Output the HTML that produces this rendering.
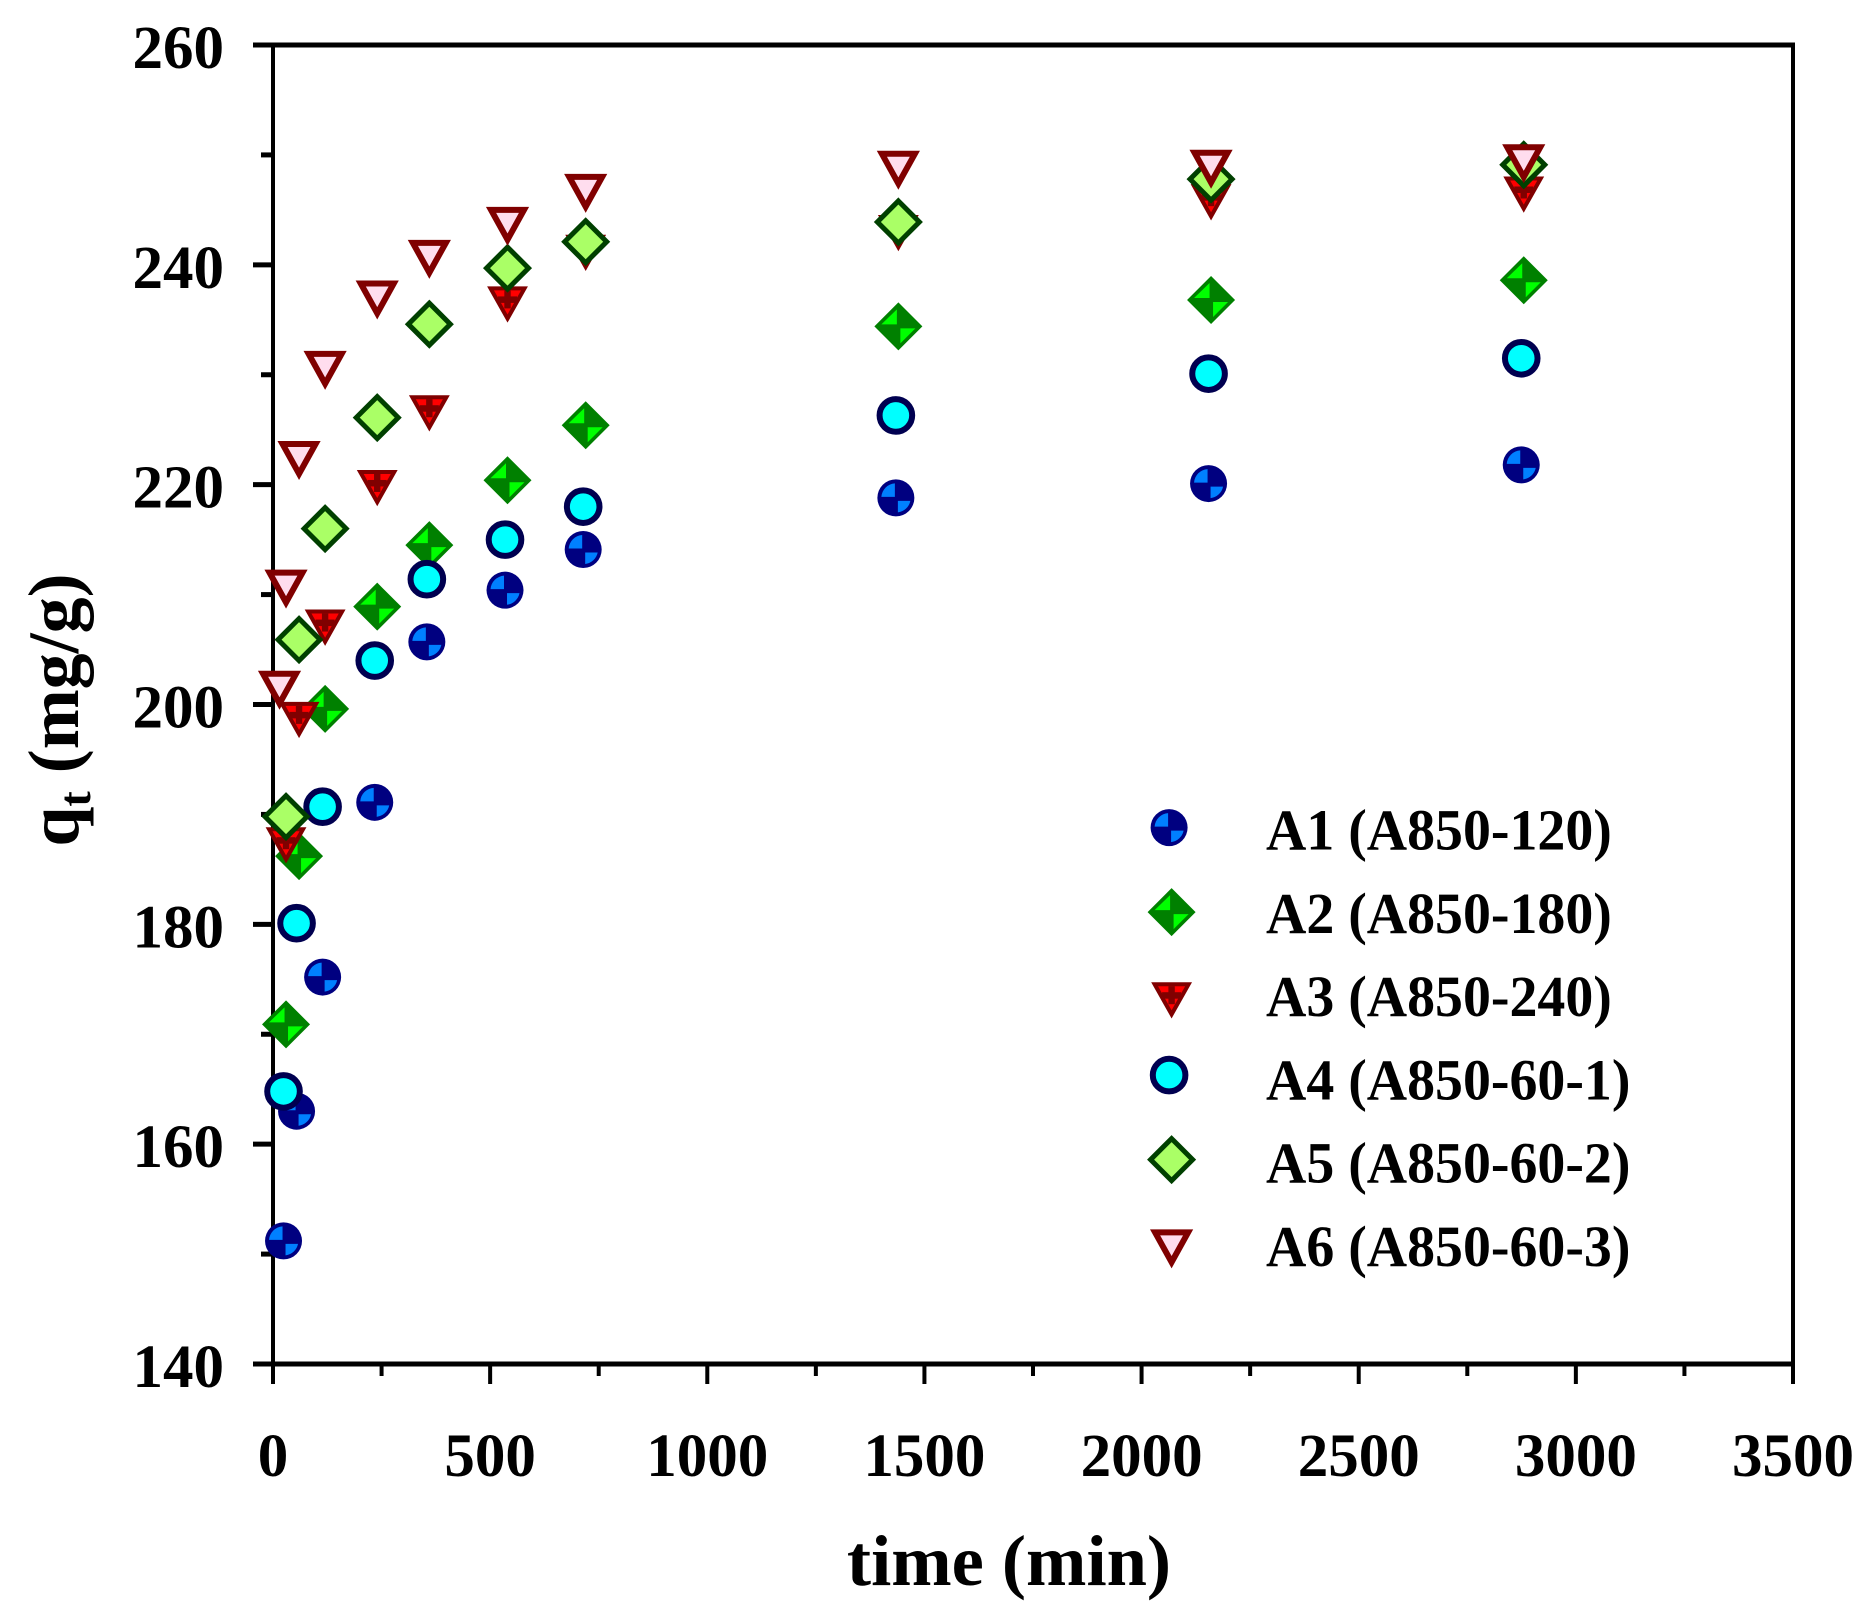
<!DOCTYPE html>
<html>
<head>
<meta charset="utf-8">
<title>qt vs time</title>
<style>
html,body{margin:0;padding:0;background:#fff;width:1874px;height:1620px;overflow:hidden}
svg{display:block}
text{font-family:"Liberation Serif",serif;font-weight:bold;fill:#000}
</style>
</head>
<body>
<svg id="chart" xmlns="http://www.w3.org/2000/svg" width="1874" height="1620" viewBox="0 0 1874 1620">
<rect width="1874" height="1620" fill="#fff"/>
<g id="axes"></g>
<g id="marks"></g>
<g id="legend"></g>
<text x="1009" y="1585" font-size="72.5" text-anchor="middle">time (min)</text>
<text transform="translate(78,710) rotate(-90)" font-size="72" text-anchor="middle">q<tspan font-size="46" dy="12">t</tspan><tspan dy="-12"> (mg/g)</tspan></text>
</svg>
<script>
const xMajorTicks = [0, 500, 1000, 1500, 2000, 2500, 3000, 3500];
const xMinorTicks = [250, 750, 1250, 1750, 2250, 2750, 3250];
const yMajorTicks = [140, 160, 180, 200, 220, 240, 260];
const yMinorTicks = [150, 170, 190, 210, 230, 250];
const times = [30, 60, 120, 240, 360, 540, 720, 1440, 2160, 2880];
const timesA6 = [15, 30, 60, 120, 240, 360, 540, 720, 1440, 2160, 2880];
const a1Values = [151.2, 163.0, 175.2, 191.1, 205.7, 210.4, 214.1, 218.8, 220.1, 221.8];
const a2Values = [170.9, 186.2, 199.6, 208.9, 214.5, 220.4, 225.4, 234.4, 236.8, 238.6];
const a3Values = [187.2, 198.6, 207.0, 219.7, 226.5, 236.4, 241.1, 242.9, 245.7, 246.4];
const a4Values = [164.8, 180.1, 190.7, 204.0, 211.4, 215.0, 218.0, 226.3, 230.1, 231.5];
const a5Values = [189.8, 205.9, 216.0, 226.1, 234.6, 239.7, 242.1, 243.9, 247.8, 249.1];
const a6Values = [201.3, 210.5, 222.2, 230.4, 236.8, 240.5, 243.5, 246.5, 248.6, 248.7, 249.2];
const legendLabels = ["A1 (A850-120)", "A2 (A850-180)", "A3 (A850-240)", "A4 (A850-60-1)", "A5 (A850-60-2)", "A6 (A850-60-3)"];

const NS = "http://www.w3.org/2000/svg";
const plot = {left: 273, right: 1793, top: 45, bottom: 1364};
const xMax = 3500, yMin = 140, yMax = 260;
function xScale(v) { return plot.left + v / xMax * (plot.right - plot.left); }
function yScale(v) { return plot.bottom - (v - yMin) / (yMax - yMin) * (plot.bottom - plot.top); }

function el(tag, attrs, parent) {
  const n = document.createElementNS(NS, tag);
  for (const k in attrs) n.setAttribute(k, attrs[k]);
  parent.appendChild(n);
  return n;
}

const axes = document.getElementById("axes");
function axisLine(x1, y1, x2, y2, w, name) {
  const l = el("line", {x1: x1, y1: y1, x2: x2, y2: y2, stroke: "#000", "stroke-width": w}, axes);
  
  
}
axisLine(plot.left - 20, plot.top, plot.right + 2, plot.top, 5, "plot-top-border");
axisLine(plot.left - 20, plot.bottom, plot.right + 2, plot.bottom, 5, "x-axis-line");
axisLine(plot.left, plot.top, plot.left, plot.bottom + 20, 4, "y-axis-line");
axisLine(plot.right, plot.top, plot.right, plot.bottom + 20, 4, "plot-right-border");

xMajorTicks.forEach(function (v) {
  if (v !== 0 && v !== xMax) axisLine(xScale(v), plot.bottom, xScale(v), plot.bottom + 20, 4, "x-major-tick");
  const t = el("text", {x: xScale(v), y: 1476, "font-size": 61, "text-anchor": "middle"}, axes);
  t.textContent = v;
  
  
});
xMinorTicks.forEach(function (v) {
  axisLine(xScale(v), plot.bottom, xScale(v), plot.bottom + 12, 4, "x-minor-tick");
});
yMajorTicks.forEach(function (v) {
  if (v !== yMin && v !== yMax) axisLine(plot.left - 20, yScale(v), plot.left, yScale(v), 5, "y-major-tick");
  const t = el("text", {x: 224, y: yScale(v) + 23, "font-size": 61, "text-anchor": "end"}, axes);
  t.textContent = v;
  
  
});
yMinorTicks.forEach(function (v) {
  axisLine(plot.left - 12, yScale(v), plot.left, yScale(v), 5, "y-minor-tick");
});

function drawA1(g, x, y) {
  const cx = x - 2.5;
  el("circle", {cx: cx, cy: y, r: 18.5, fill: "#000080"}, g);
  el("path", {d: "M" + (cx - 1) + " " + (y - 1) + "L" + (cx - 14.5) + " " + (y - 1) + "A14.5 14.5 0 0 1 " + (cx - 1) + " " + (y - 14.5) + "Z", fill: "#0080ff"}, g);
  el("path", {d: "M" + (cx + 2) + " " + (y + 3) + "L" + (cx + 14.5) + " " + (y + 3) + "A14.5 14.5 0 0 1 " + (cx + 2) + " " + (y + 14.5) + "Z", fill: "#0080ff"}, g);
}
function drawA2(g, x, y) {
  el("polygon", {points: [x, y - 24, x + 24, y, x, y + 24, x - 24, y].join(" "), fill: "#008000"}, g);
  el("polygon", {points: [x - 1.5, y - 17, x - 1.5, y - 2, x - 17, y - 2].join(" "), fill: "#00ff00"}, g);
  el("polygon", {points: [x + 2, y + 2, x + 17, y + 2, x + 2, y + 17].join(" "), fill: "#00ff00"}, g);
}
function drawA3(g, x, y) {
  el("polygon", {points: [x - 17, y - 16, x + 17, y - 16, x, y + 14.2].join(" "), fill: "#ff0000", stroke: "#800000", "stroke-width": 4, "stroke-linejoin": "miter"}, g);
  el("rect", {x: x - 9.5, y: y - 8, width: 19, height: 6.5, fill: "#800000"}, g);
  el("rect", {x: x - 3.2, y: y - 14, width: 6.4, height: 18, fill: "#800000"}, g);
}
function drawA4(g, x, y) {
  el("circle", {cx: x - 2.5, cy: y, r: 16.3, fill: "#00ffff", stroke: "#000050", "stroke-width": 6}, g);
}
function drawA5(g, x, y) {
  el("polygon", {points: [x, y - 21, x + 21, y, x, y + 21, x - 21, y].join(" "), fill: "#aaff66", stroke: "#004000", "stroke-width": 5, "stroke-linejoin": "miter"}, g);
}
function drawA6(g, x, y) {
  el("polygon", {points: [x - 16.5, y - 16.5, x + 16.5, y - 16.5, x, y + 13.3].join(" "), fill: "#ffddee", stroke: "#800000", "stroke-width": 6, "stroke-linejoin": "miter"}, g);
}

const marks = document.getElementById("marks");
function drawSeries(name, xs, ys, draw) {
  const g = el("g", {}, marks);
  
  
  xs.forEach(function (t, i) {
    const m = el("g", {}, g);
    
    
    draw(m, xScale(t), yScale(ys[i]));
  });
}
drawSeries("series-a1", times, a1Values, drawA1);
drawSeries("series-a2", times, a2Values, drawA2);
drawSeries("series-a3", times, a3Values, drawA3);
drawSeries("series-a4", times, a4Values, drawA4);
drawSeries("series-a5", times, a5Values, drawA5);
drawSeries("series-a6", timesA6, a6Values, drawA6);

const legend = document.getElementById("legend");
const legendDraw = [drawA1, drawA2, drawA3, drawA4, drawA5, drawA6];
function legendMarkerY(i) {
  return 830 + i * 83.3 + [-2.4, -1.2, 3.6, -4.8, -3.6, 2.4][i];
}
legendLabels.forEach(function (label, i) {
  const g = el("g", {}, legend);
  
  
  legendDraw[i](g, 1171.6, legendMarkerY(i));
  const t = el("text", {transform: "translate(1266," + (830 + i * 83.3 + 19.5) + ") scale(0.963,1)", "font-size": 58}, g);
  t.textContent = label;
  
  
});
</script>
</body>
</html>
